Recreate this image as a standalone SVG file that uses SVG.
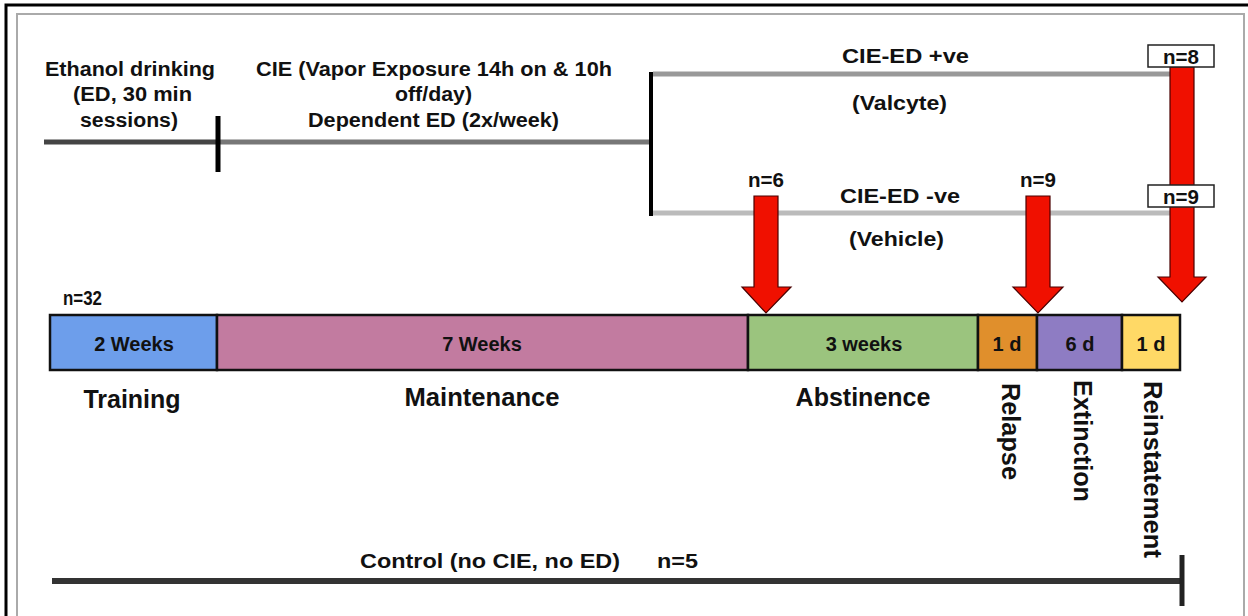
<svg xmlns="http://www.w3.org/2000/svg" width="1248" height="616" viewBox="0 0 1248 616">
<style>
text{font-family:"Liberation Sans",Arial,sans-serif;font-weight:bold;fill:#111}
.t19{font-size:19.5px}
.t20{font-size:20px}
.t25{font-size:25px}
.seg{stroke:#111;stroke-width:2.5}
.arrow{fill:#f01000;stroke:#4a0000;stroke-width:1.2}
.nbox{fill:#fff;stroke:#222;stroke-width:1.5}
</style>
<rect x="0" y="0" width="1248" height="616" fill="#fff"/>
<rect x="6" y="5" width="1262" height="700" fill="none" stroke="#000" stroke-width="3"/>
<rect x="17" y="14" width="1227" height="700" fill="none" stroke="#aaa" stroke-width="2"/>

<g id="connectors">
<line x1="44" y1="142" x2="218" y2="142" stroke="#444" stroke-width="5"/>
<line x1="218" y1="142" x2="652" y2="142" stroke="#777" stroke-width="5"/>
<line x1="218" y1="116" x2="218" y2="172" stroke="#000" stroke-width="5"/>
<line x1="651" y1="72" x2="651" y2="216" stroke="#000" stroke-width="4"/>
<line x1="653" y1="74" x2="1172" y2="74" stroke="#999" stroke-width="5"/>
<line x1="653" y1="213" x2="1172" y2="213" stroke="#bbb" stroke-width="5"/>
<line x1="52" y1="581" x2="1184" y2="581" stroke="#333" stroke-width="6"/>
<line x1="1182" y1="555" x2="1182" y2="606" stroke="#222" stroke-width="5"/>
</g>

<g id="labels-top">
<text class="t19" x="45" y="76" textLength="170" lengthAdjust="spacingAndGlyphs">Ethanol drinking</text>
<text class="t19" x="73" y="101" textLength="119" lengthAdjust="spacingAndGlyphs">(ED, 30 min</text>
<text class="t19" x="80" y="127" textLength="98" lengthAdjust="spacingAndGlyphs">sessions)</text>
<text class="t19" x="256" y="76" textLength="356" lengthAdjust="spacingAndGlyphs">CIE (Vapor Exposure 14h on &amp; 10h</text>
<text class="t19" x="395" y="101" textLength="77" lengthAdjust="spacingAndGlyphs">off/day)</text>
<text class="t19" x="308" y="127" textLength="251" lengthAdjust="spacingAndGlyphs">Dependent ED (2x/week)</text>
<text class="t19" x="842" y="63" textLength="127" lengthAdjust="spacingAndGlyphs">CIE-ED +ve</text>
<text class="t19" x="852" y="110" textLength="95" lengthAdjust="spacingAndGlyphs">(Valcyte)</text>
<text class="t19" x="840" y="203" textLength="120" lengthAdjust="spacingAndGlyphs">CIE-ED -ve</text>
<text class="t19" x="849" y="246" textLength="95" lengthAdjust="spacingAndGlyphs">(Vehicle)</text>
<text class="t19" x="748" y="187" textLength="36" lengthAdjust="spacingAndGlyphs">n=6</text>
<text class="t19" x="1020" y="187" textLength="36" lengthAdjust="spacingAndGlyphs">n=9</text>
</g>

<g id="arrow-abstinence"><path class="arrow" d="M754,196 H778 V287 H791 L766,313 L742,287 H754 Z"/></g>
<g id="arrow-relapse"><path class="arrow" d="M1026,196 H1050 V287 H1063 L1038,313 L1013,287 H1026 Z"/></g>
<g id="arrow-reinstatement"><path class="arrow" d="M1170,67 H1194 V277 H1206 L1182,302 L1158,277 H1170 Z"/></g>

<g id="n8"><rect class="nbox" x="1148" y="45" width="66" height="22"/><text class="t19" x="1163" y="64" textLength="36" lengthAdjust="spacingAndGlyphs">n=8</text></g>
<g id="n9"><rect class="nbox" x="1148" y="185" width="66" height="22"/><text class="t19" x="1163" y="204" textLength="36" lengthAdjust="spacingAndGlyphs">n=9</text></g>

<text class="t19" x="63" y="305" textLength="39" lengthAdjust="spacingAndGlyphs">n=32</text>

<g id="training"><rect class="seg" x="50" y="315" width="167" height="55" fill="#6d9eeb"/><text class="t20" text-anchor="middle" x="134" y="351">2 Weeks</text><text class="t25" text-anchor="middle" x="132" y="408">Training</text></g>
<g id="maintenance"><rect class="seg" x="217" y="315" width="531" height="55" fill="#c27ba0"/><text class="t20" text-anchor="middle" x="482" y="351">7 Weeks</text><text class="t25" text-anchor="middle" x="482" y="406" textLength="155" lengthAdjust="spacingAndGlyphs">Maintenance</text></g>
<g id="abstinence"><rect class="seg" x="748" y="315" width="230" height="55" fill="#9bc47e"/><text class="t20" text-anchor="middle" x="864" y="351">3 weeks</text><text class="t25" text-anchor="middle" x="863" y="406">Abstinence</text></g>
<g id="relapse"><rect class="seg" x="978" y="315" width="59" height="55" fill="#e08f2c"/><text class="t20" text-anchor="middle" x="1007" y="351">1 d</text><text class="t25" transform="translate(1002,383) rotate(90)" textLength="97" lengthAdjust="spacingAndGlyphs">Relapse</text></g>
<g id="extinction"><rect class="seg" x="1037" y="315" width="85" height="55" fill="#8e7cc3"/><text class="t20" text-anchor="middle" x="1080" y="351">6 d</text><text class="t25" transform="translate(1074,380) rotate(90)" textLength="122" lengthAdjust="spacingAndGlyphs">Extinction</text></g>
<g id="reinstatement"><rect class="seg" x="1122" y="315" width="58" height="55" fill="#ffd966"/><text class="t20" text-anchor="middle" x="1151" y="351">1 d</text><text class="t25" transform="translate(1144,381) rotate(90)" textLength="177" lengthAdjust="spacingAndGlyphs">Reinstatement</text></g>

<g id="control"><text class="t19" x="360" y="568" textLength="260" lengthAdjust="spacingAndGlyphs">Control (no CIE, no ED)</text><text class="t19" x="657" y="568" textLength="41" lengthAdjust="spacingAndGlyphs">n=5</text></g>
</svg>
